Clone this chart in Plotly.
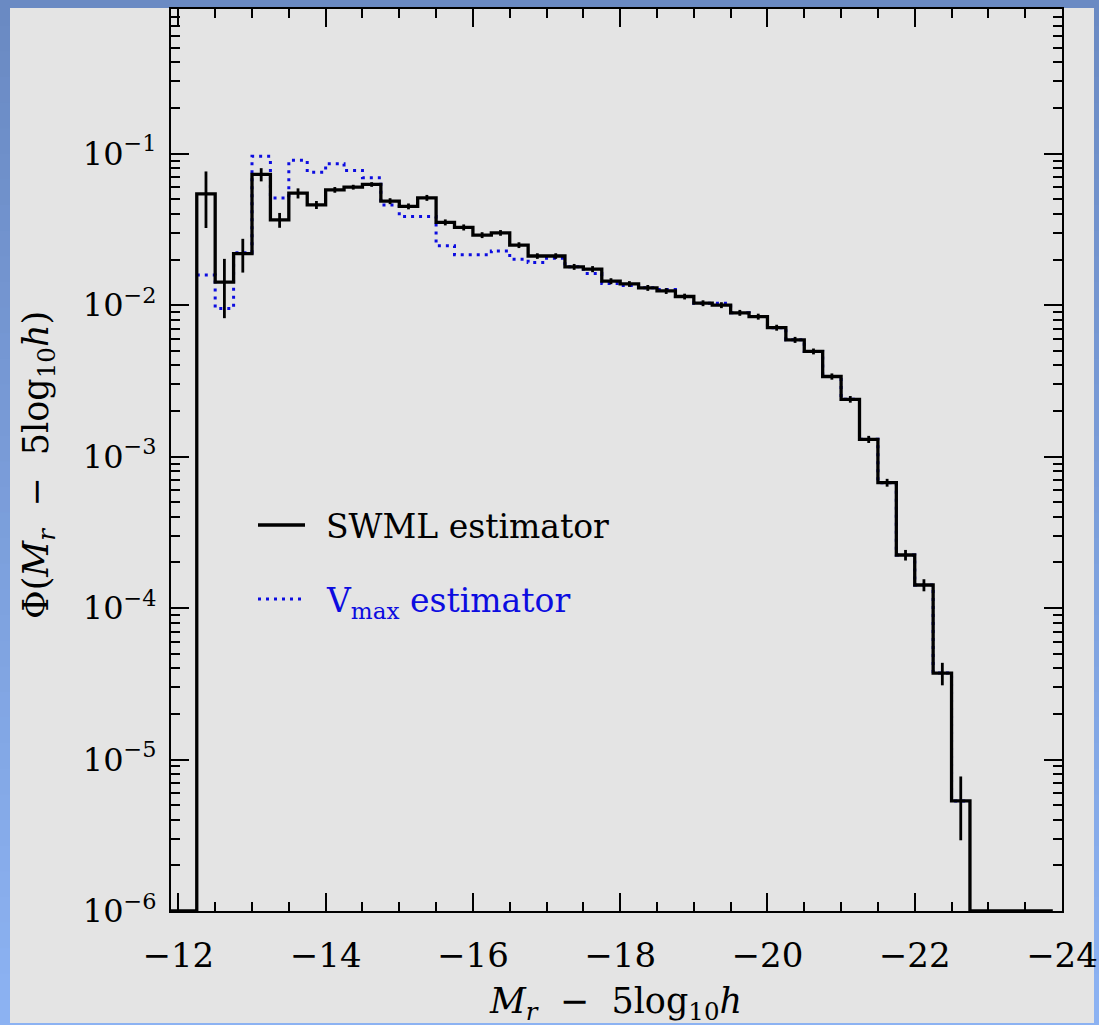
import plotly.graph_objects as go

# ---- luminosity function data (r band, 0.25 mag bins) ----
mag_centres = [-12.375, -12.625, -12.875, -13.125, -13.375, -13.625, -13.875,
               -14.125, -14.375, -14.625, -14.875, -15.125, -15.375, -15.625,
               -15.875, -16.125, -16.375, -16.625, -16.875, -17.125, -17.375,
               -17.625, -17.875, -18.125, -18.375, -18.625, -18.875, -19.125,
               -19.375, -19.625, -19.875, -20.125, -20.375, -20.625, -20.875,
               -21.125, -21.375, -21.625, -21.875, -22.125, -22.375, -22.625]

phi_swml = [0.0543, 0.0142, 0.0219, 0.0729, 0.0365, 0.0548, 0.0459,
            0.0577, 0.0601, 0.0626, 0.0486, 0.0449, 0.0511, 0.0352,
            0.0326, 0.0290, 0.0300, 0.0249, 0.0211, 0.0211, 0.0179,
            0.0173, 0.0144, 0.0138, 0.0130, 0.0124, 0.0114, 0.0103,
            0.0100, 0.0089, 0.0084, 0.0071, 0.0059, 0.00495, 0.00338,
            0.00239, 0.00130, 0.000673, 0.000224, 0.000142, 3.72e-5, 5.33e-6]

phi_swml_err = [0.022, 0.0060, 0.0055, 0.0073, 0.0041, 0.0042, 0.0028,
                0.0025, 0.0022, 0.0022, 0.0022, 0.0020, 0.0023, 0.0016,
                0.0015, 0.0013, 0.0013, 0.0011, 0.0009, 0.0009, 0.0008,
                0.0008, 0.00065, 0.0006, 0.00058, 0.00055, 0.0005, 0.00046,
                0.00045, 0.0004, 0.00038, 0.00032, 0.00027, 0.00022, 0.00016,
                0.00012, 0.00007, 0.00004, 0.000018, 0.000013, 0.0000063, 0.0000024]

phi_vmax = [0.0158, 0.0095, 0.0222, 0.0960, 0.0510, 0.0903, 0.0755,
            0.0858, 0.0775, 0.0694, 0.0458, 0.0385, 0.0385, 0.0247,
            0.0215, 0.0215, 0.0228, 0.0201, 0.0191, 0.0204, 0.0179,
            0.0162, 0.0139, 0.0135, 0.0130, 0.0127, 0.0114, 0.0103,
            0.0103, 0.0089, 0.0084, 0.0071, 0.0059, 0.00495, 0.00338,
            0.00239, 0.00130, 0.000673, 0.000224, 0.000142, 3.72e-5, 5.33e-6]

BIN_WIDTH = 0.25
PHI_FLOOR = 1e-6          # empty bins sit on the bottom of the plot
MAG_LEFT_END = -11.75
MAG_RIGHT_END = -23.875

x_tick_vals = [-12, -14, -16, -18, -20, -22, -24]
x_tick_text = ["\u221212", "\u221214", "\u221216", "\u221218", "\u221220", "\u221222", "\u221224"]
y_tick_vals = [1e-6, 1e-5, 1e-4, 1e-3, 1e-2, 1e-1]
y_tick_text = ["10<sup>\u22126</sup>", "10<sup>\u22125</sup>", "10<sup>\u22124</sup>",
               "10<sup>\u22123</sup>", "10<sup>\u22122</sup>", "10<sup>\u22121</sup>"]

# ---- figure geometry (pixels) ----
W, H = 1099, 1025
ML, MR, MT, MB = 171, 37, 9, 114
PW, PH = W - ML - MR, H - MT - MB


def px_x(px):
    return (px - ML) / PW


def px_y(py):
    return (H - MB - py) / PH


FONT = "DejaVu Serif"

# ---- step outlines ----
half = BIN_WIDTH / 2
faint_edges = [c + half for c in mag_centres]
last_edge = mag_centres[-1] - half

swml_x = [MAG_LEFT_END] + faint_edges + [last_edge, MAG_RIGHT_END]
swml_y = [PHI_FLOOR] + phi_swml + [PHI_FLOOR, PHI_FLOOR]
vmax_x = faint_edges + [last_edge]
vmax_y = phi_vmax + [phi_vmax[-1]]

BLUE = "#0c0ce0"

fig = go.Figure()
fig.add_trace(go.Scatter(
    x=vmax_x, y=vmax_y, mode="lines", line_shape="hv",
    line=dict(color=BLUE, width=3, dash="3px,5px"),
    name="V<sub>max</sub> estimator", showlegend=False, hoverinfo="skip"))
fig.add_trace(go.Scatter(
    x=swml_x, y=swml_y, mode="lines", line_shape="hv",
    line=dict(color="black", width=3.3),
    name="SWML estimator", showlegend=False, hoverinfo="skip"))
fig.add_trace(go.Scatter(
    x=mag_centres, y=phi_swml, mode="markers",
    marker=dict(size=2, color="rgba(0,0,0,0)"),
    error_y=dict(type="data", array=phi_swml_err, color="black",
                 thickness=2.8, width=0),
    showlegend=False, hoverinfo="skip"))

# ---- axes ----
x_minor = [-12 - 0.5 * i for i in range(1, 25) if i % 4 != 0]
y_minor = [k * 10.0 ** d for d in range(-6, 0) for k in range(2, 10)]

axis_common = dict(
    showline=True, linecolor="black", linewidth=2, mirror="allticks",
    ticks="inside", ticklen=18, tickwidth=2, tickcolor="black",
    showgrid=False, zeroline=False, automargin=False,
)
fig.update_xaxes(
    range=[-11.9, -24], tickmode="array", tickvals=x_tick_vals, ticktext=x_tick_text,
    tickfont=dict(family=FONT, size=34, color="black"),
    minor=dict(ticks="inside", ticklen=9, tickwidth=2, tickcolor="black",
               tickmode="array", tickvals=x_minor, showgrid=False),
    ticklabelstandoff=13, **axis_common)
fig.update_yaxes(
    type="log", range=[-6, -0.045], tickmode="array", tickvals=y_tick_vals,
    ticktext=y_tick_text,
    tickfont=dict(family=FONT, size=32, color="black"),
    minor=dict(ticks="inside", ticklen=9, tickwidth=2, tickcolor="black",
               tickmode="array", tickvals=y_minor, showgrid=False),
    ticklabelstandoff=6, **axis_common)

# ---- background: blue frame with a grey panel ----
shapes = []
n_bands = 40
top_rgb = (106, 138, 195)
bot_rgb = (140, 178, 242)
for i in range(n_bands):
    t = i / (n_bands - 1)
    r, g, b = (round(top_rgb[j] + (bot_rgb[j] - top_rgb[j]) * t) for j in range(3))
    y0 = i * H / n_bands
    y1 = (i + 1) * H / n_bands + 1
    shapes.append(dict(type="rect", xref="paper", yref="paper", layer="below",
                       x0=px_x(0), x1=px_x(W), y0=px_y(y1), y1=px_y(y0),
                       line=dict(width=0), fillcolor=f"rgb({r},{g},{b})"))
shapes.append(dict(type="rect", xref="paper", yref="paper", layer="below",
                   x0=px_x(10), x1=px_x(1094), y0=px_y(1023), y1=px_y(8),
                   line=dict(width=0), fillcolor="#e4e4e4"))

# legend keys
shapes.append(dict(type="line", xref="paper", yref="paper",
                   x0=px_x(258), x1=px_x(305), y0=px_y(525), y1=px_y(525),
                   line=dict(color="black", width=3.3)))
shapes.append(dict(type="line", xref="paper", yref="paper",
                   x0=px_x(258), x1=px_x(305), y0=px_y(599), y1=px_y(599),
                   line=dict(color=BLUE, width=3, dash="3px,5px")))

annotations = [
    dict(text="SWML estimator", xref="paper", yref="paper",
         x=px_x(324), y=px_y(526), xanchor="left", yanchor="middle", showarrow=False,
         font=dict(family=FONT, size=33, color="black")),
    dict(text="V<sub>max</sub> estimator", xref="paper", yref="paper",
         x=px_x(324), y=px_y(602), xanchor="left", yanchor="middle", showarrow=False,
         font=dict(family=FONT, size=33, color=BLUE)),
    dict(text="<i>M</i><sub><i>r</i></sub>\u00a0\u00a0\u2212\u00a0\u00a05log<sub>10</sub><i>h</i>",
         xref="paper", yref="paper", x=px_x(615), y=px_y(1004),
         xanchor="center", yanchor="middle", showarrow=False,
         font=dict(family=FONT, size=35, color="black")),
    dict(text="\u03a6(<i>M</i><sub><i>r</i></sub>\u00a0\u00a0\u2212\u00a0\u00a05log<sub>10</sub><i>h</i>)",
         xref="paper", yref="paper", x=px_x(38), y=px_y(465), textangle=-90,
         xanchor="center", yanchor="middle", showarrow=False,
         font=dict(family=FONT, size=35, color="black")),
]

fig.update_layout(
    width=W, height=H, autosize=False,
    margin=dict(l=ML, r=MR, t=MT, b=MB),
    paper_bgcolor="rgb(106,138,195)", plot_bgcolor="#e4e4e4",
    shapes=shapes, annotations=annotations, showlegend=False,
)

fig.write_html("out.html")
